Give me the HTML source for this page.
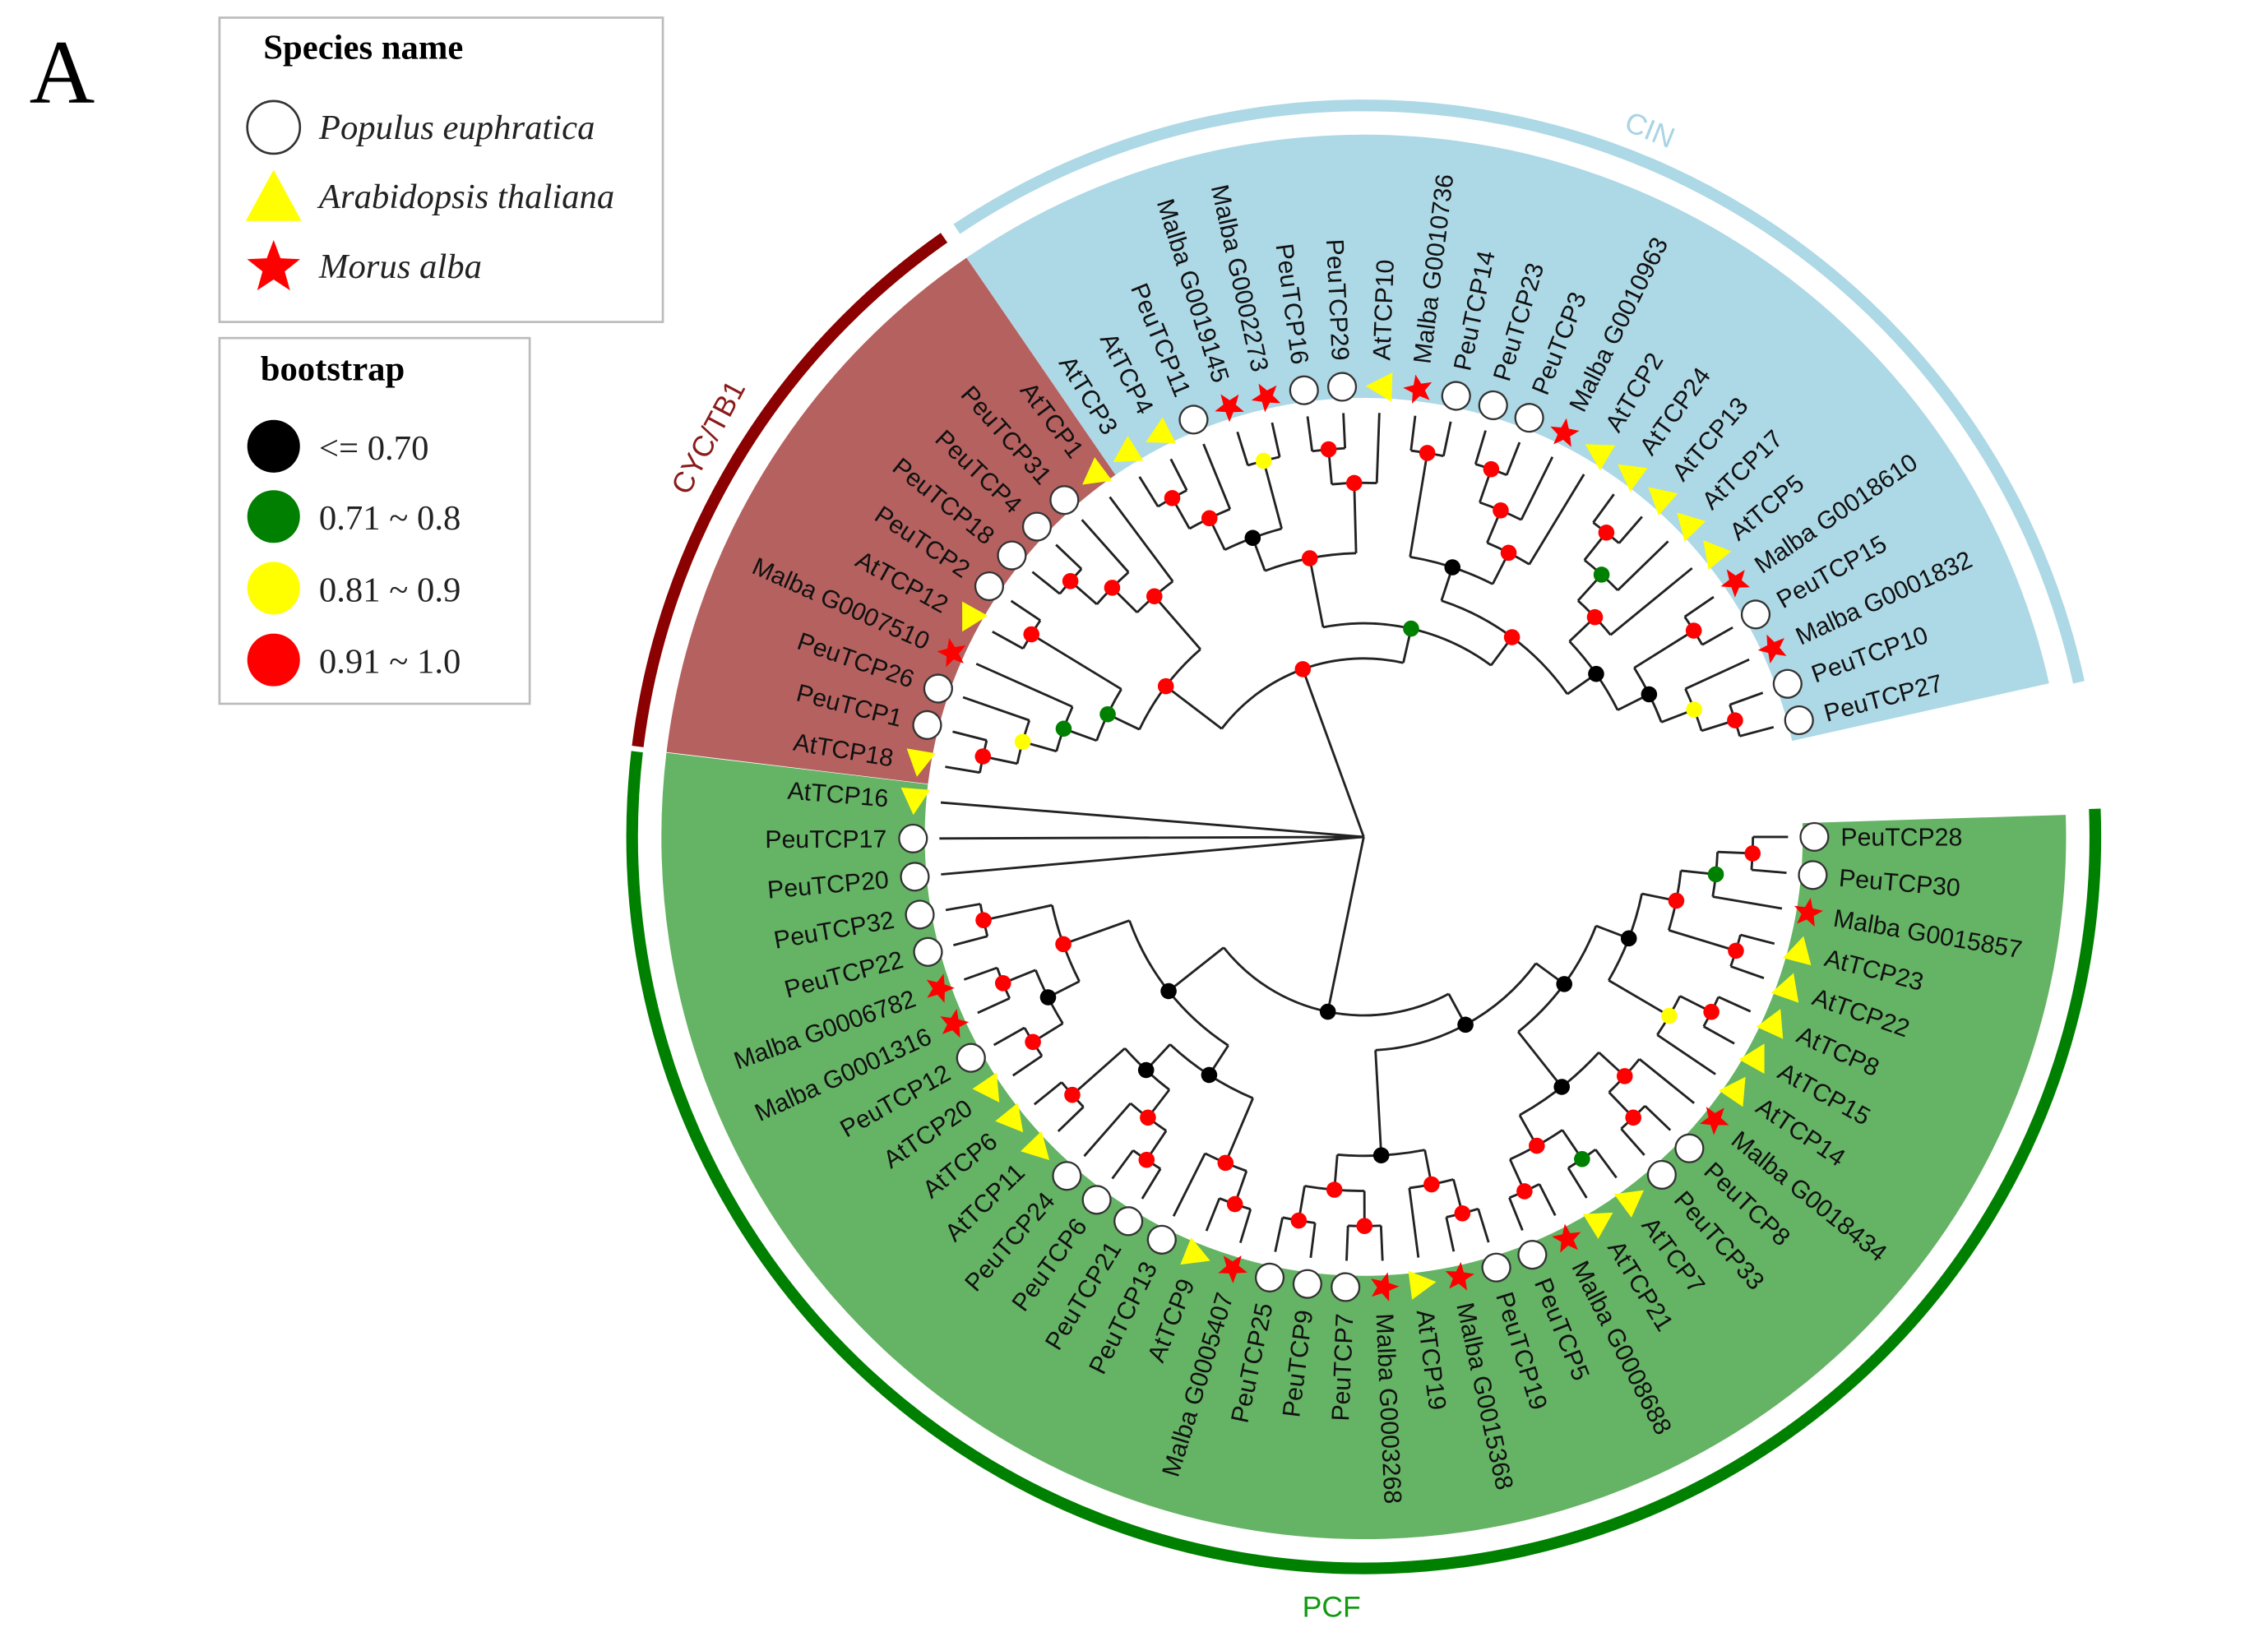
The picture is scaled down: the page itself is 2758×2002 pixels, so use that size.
<!DOCTYPE html>
<html><head><meta charset="utf-8"><style>
html,body{margin:0;padding:0;background:#fff;width:2758px;height:2002px;overflow:hidden;}
svg{display:block;}
</style></head><body>
<svg width="2758" height="2002" viewBox="0 0 1550 1125" xmlns="http://www.w3.org/2000/svg" xmlns:xlink="http://www.w3.org/1999/xlink">
<defs>
<circle id="pc" r="9.5" fill="#fff" stroke="#333" stroke-width="1.3"/>
<polygon id="tri" points="0,-10 10,8 -10,8" fill="#ffff00"/>
<polygon id="st" fill="#ff0000" points="0,-10.5 2.65,-3.64 9.99,-3.24 4.28,1.39 6.17,8.49 0,4.5 -6.17,8.49 -4.28,1.39 -9.99,-3.24 -2.65,-3.64"/>
</defs>
<rect x="0" y="0" width="1550" height="1125" fill="#fff"/>
<g transform="translate(932 572)">
<g fill="none">
<circle r="390" stroke="#add8e6" stroke-width="180" pathLength="360" stroke-dasharray="111.83 400" transform="rotate(-124.43)"/>
<circle r="390" stroke="#b5615f" stroke-width="180" pathLength="360" stroke-dasharray="48.63 400" transform="rotate(-173.06)"/>
<circle r="390" stroke="#65b365" stroke-width="180" pathLength="360" stroke-dasharray="188.74 400" transform="rotate(-1.8)"/>
<circle r="500" stroke="#add8e6" stroke-width="8" pathLength="360" stroke-dasharray="111.6 400" transform="rotate(-123.8)"/>
<circle r="500" stroke="#8b0000" stroke-width="8" pathLength="360" stroke-dasharray="47.9 400" transform="rotate(-172.9)"/>
<circle r="500" stroke="#008000" stroke-width="8" pathLength="360" stroke-dasharray="188.9 400" transform="rotate(-2.2)"/>
</g>
<g fill="none" stroke="#222" stroke-width="1.6">
<line x1="266" x2="290" transform="rotate(-15)"/><line x1="266" x2="290" transform="rotate(-19.86)"/><circle r="266" pathLength="360" stroke-dasharray="4.86 400" transform="rotate(-19.86)"/>
<line x1="242" x2="266" transform="rotate(-17.43)"/><line x1="242" x2="290" transform="rotate(-24.72)"/><circle r="242" pathLength="360" stroke-dasharray="7.29 400" transform="rotate(-24.72)"/>
<line x1="266" x2="290" transform="rotate(-29.58)"/><line x1="266" x2="290" transform="rotate(-34.44)"/><circle r="266" pathLength="360" stroke-dasharray="4.86 400" transform="rotate(-34.44)"/>
<line x1="218" x2="242" transform="rotate(-21.08)"/><line x1="218" x2="266" transform="rotate(-32.01)"/><circle r="218" pathLength="360" stroke-dasharray="10.93 400" transform="rotate(-32.01)"/>
<line x1="266" x2="290" transform="rotate(-49.01)"/><line x1="266" x2="290" transform="rotate(-53.87)"/><circle r="266" pathLength="360" stroke-dasharray="4.86 400" transform="rotate(-53.87)"/>
<line x1="242" x2="290" transform="rotate(-44.16)"/><line x1="242" x2="266" transform="rotate(-51.44)"/><circle r="242" pathLength="360" stroke-dasharray="7.28 400" transform="rotate(-51.44)"/>
<line x1="218" x2="290" transform="rotate(-39.30)"/><line x1="218" x2="242" transform="rotate(-47.80)"/><circle r="218" pathLength="360" stroke-dasharray="8.5 400" transform="rotate(-47.80)"/>
<line x1="194" x2="218" transform="rotate(-26.55)"/><line x1="194" x2="218" transform="rotate(-43.55)"/><circle r="194" pathLength="360" stroke-dasharray="17 400" transform="rotate(-43.55)"/>
<line x1="266" x2="290" transform="rotate(-68.45)"/><line x1="266" x2="290" transform="rotate(-73.31)"/><circle r="266" pathLength="360" stroke-dasharray="4.86 400" transform="rotate(-73.31)"/>
<line x1="242" x2="290" transform="rotate(-63.59)"/><line x1="242" x2="266" transform="rotate(-70.88)"/><circle r="242" pathLength="360" stroke-dasharray="7.29 400" transform="rotate(-70.88)"/>
<line x1="218" x2="290" transform="rotate(-58.73)"/><line x1="218" x2="242" transform="rotate(-67.24)"/><circle r="218" pathLength="360" stroke-dasharray="8.51 400" transform="rotate(-67.24)"/>
<line x1="266" x2="290" transform="rotate(-78.17)"/><line x1="266" x2="290" transform="rotate(-83.03)"/><circle r="266" pathLength="360" stroke-dasharray="4.86 400" transform="rotate(-83.03)"/>
<line x1="194" x2="218" transform="rotate(-62.98)"/><line x1="194" x2="266" transform="rotate(-80.60)"/><circle r="194" pathLength="360" stroke-dasharray="17.62 400" transform="rotate(-80.60)"/>
<line x1="170" x2="194" transform="rotate(-35.05)"/><line x1="170" x2="194" transform="rotate(-71.79)"/><circle r="170" pathLength="360" stroke-dasharray="36.74 400" transform="rotate(-71.79)"/>
<line x1="266" x2="290" transform="rotate(-92.75)"/><line x1="266" x2="290" transform="rotate(-97.61)"/><circle r="266" pathLength="360" stroke-dasharray="4.86 400" transform="rotate(-97.61)"/>
<line x1="242" x2="290" transform="rotate(-87.89)"/><line x1="242" x2="266" transform="rotate(-95.18)"/><circle r="242" pathLength="360" stroke-dasharray="7.29 400" transform="rotate(-95.18)"/>
<line x1="266" x2="290" transform="rotate(-102.47)"/><line x1="266" x2="290" transform="rotate(-107.32)"/><circle r="266" pathLength="360" stroke-dasharray="4.85 400" transform="rotate(-107.32)"/>
<line x1="266" x2="290" transform="rotate(-117.04)"/><line x1="266" x2="290" transform="rotate(-121.90)"/><circle r="266" pathLength="360" stroke-dasharray="4.86 400" transform="rotate(-121.90)"/>
<line x1="242" x2="290" transform="rotate(-112.18)"/><line x1="242" x2="266" transform="rotate(-119.47)"/><circle r="242" pathLength="360" stroke-dasharray="7.29 400" transform="rotate(-119.47)"/>
<line x1="218" x2="266" transform="rotate(-104.90)"/><line x1="218" x2="242" transform="rotate(-115.83)"/><circle r="218" pathLength="360" stroke-dasharray="10.93 400" transform="rotate(-115.83)"/>
<line x1="194" x2="242" transform="rotate(-91.54)"/><line x1="194" x2="218" transform="rotate(-110.37)"/><circle r="194" pathLength="360" stroke-dasharray="18.83 400" transform="rotate(-110.37)"/>
<line x1="146" x2="170" transform="rotate(-53.42)"/><line x1="146" x2="194" transform="rotate(-100.96)"/><circle r="146" pathLength="360" stroke-dasharray="47.54 400" transform="rotate(-100.96)"/>
<line x1="266" x2="290" transform="rotate(-136.48)"/><line x1="266" x2="290" transform="rotate(-141.34)"/><circle r="266" pathLength="360" stroke-dasharray="4.86 400" transform="rotate(-141.34)"/>
<line x1="242" x2="290" transform="rotate(-131.62)"/><line x1="242" x2="266" transform="rotate(-138.91)"/><circle r="242" pathLength="360" stroke-dasharray="7.29 400" transform="rotate(-138.91)"/>
<line x1="218" x2="290" transform="rotate(-126.76)"/><line x1="218" x2="242" transform="rotate(-135.27)"/><circle r="218" pathLength="360" stroke-dasharray="8.51 400" transform="rotate(-135.27)"/>
<line x1="266" x2="290" transform="rotate(-146.20)"/><line x1="266" x2="290" transform="rotate(-151.06)"/><circle r="266" pathLength="360" stroke-dasharray="4.86 400" transform="rotate(-151.06)"/>
<line x1="266" x2="290" transform="rotate(-165.63)"/><line x1="266" x2="290" transform="rotate(-170.49)"/><circle r="266" pathLength="360" stroke-dasharray="4.86 400" transform="rotate(-170.49)"/>
<line x1="242" x2="290" transform="rotate(-160.78)"/><line x1="242" x2="266" transform="rotate(-168.06)"/><circle r="242" pathLength="360" stroke-dasharray="7.28 400" transform="rotate(-168.06)"/>
<line x1="218" x2="290" transform="rotate(-155.92)"/><line x1="218" x2="242" transform="rotate(-164.42)"/><circle r="218" pathLength="360" stroke-dasharray="8.5 400" transform="rotate(-164.42)"/>
<line x1="194" x2="266" transform="rotate(-148.63)"/><line x1="194" x2="218" transform="rotate(-160.17)"/><circle r="194" pathLength="360" stroke-dasharray="11.54 400" transform="rotate(-160.17)"/>
<line x1="170" x2="218" transform="rotate(-131.02)"/><line x1="170" x2="194" transform="rotate(-154.40)"/><circle r="170" pathLength="360" stroke-dasharray="23.38 400" transform="rotate(-154.40)"/>
<line x1="122" x2="146" transform="rotate(-77.19)"/><line x1="122" x2="170" transform="rotate(-142.71)"/><circle r="122" pathLength="360" stroke-dasharray="65.52 400" transform="rotate(-142.71)"/>
<line x1="266" x2="290" transform="rotate(-189.93)"/><line x1="266" x2="290" transform="rotate(-194.79)"/><circle r="266" pathLength="360" stroke-dasharray="4.86 400" transform="rotate(-194.79)"/>
<line x1="266" x2="290" transform="rotate(-199.65)"/><line x1="266" x2="290" transform="rotate(-204.51)"/><circle r="266" pathLength="360" stroke-dasharray="4.86 400" transform="rotate(-204.51)"/>
<line x1="266" x2="290" transform="rotate(-209.37)"/><line x1="266" x2="290" transform="rotate(-214.23)"/><circle r="266" pathLength="360" stroke-dasharray="4.86 400" transform="rotate(-214.23)"/>
<line x1="242" x2="266" transform="rotate(-202.08)"/><line x1="242" x2="266" transform="rotate(-211.80)"/><circle r="242" pathLength="360" stroke-dasharray="9.72 400" transform="rotate(-211.80)"/>
<line x1="218" x2="266" transform="rotate(-192.36)"/><line x1="218" x2="242" transform="rotate(-206.94)"/><circle r="218" pathLength="360" stroke-dasharray="14.58 400" transform="rotate(-206.94)"/>
<line x1="266" x2="290" transform="rotate(-219.09)"/><line x1="266" x2="290" transform="rotate(-223.94)"/><circle r="266" pathLength="360" stroke-dasharray="4.85 400" transform="rotate(-223.94)"/>
<line x1="266" x2="290" transform="rotate(-233.66)"/><line x1="266" x2="290" transform="rotate(-238.52)"/><circle r="266" pathLength="360" stroke-dasharray="4.86 400" transform="rotate(-238.52)"/>
<line x1="242" x2="290" transform="rotate(-228.80)"/><line x1="242" x2="266" transform="rotate(-236.09)"/><circle r="242" pathLength="360" stroke-dasharray="7.29 400" transform="rotate(-236.09)"/>
<line x1="218" x2="266" transform="rotate(-221.52)"/><line x1="218" x2="242" transform="rotate(-232.45)"/><circle r="218" pathLength="360" stroke-dasharray="10.93 400" transform="rotate(-232.45)"/>
<line x1="266" x2="290" transform="rotate(-248.24)"/><line x1="266" x2="290" transform="rotate(-253.10)"/><circle r="266" pathLength="360" stroke-dasharray="4.86 400" transform="rotate(-253.10)"/>
<line x1="242" x2="290" transform="rotate(-243.38)"/><line x1="242" x2="266" transform="rotate(-250.67)"/><circle r="242" pathLength="360" stroke-dasharray="7.29 400" transform="rotate(-250.67)"/>
<line x1="194" x2="218" transform="rotate(-226.98)"/><line x1="194" x2="242" transform="rotate(-247.03)"/><circle r="194" pathLength="360" stroke-dasharray="20.05 400" transform="rotate(-247.03)"/>
<line x1="170" x2="218" transform="rotate(-199.65)"/><line x1="170" x2="194" transform="rotate(-237.01)"/><circle r="170" pathLength="360" stroke-dasharray="37.36 400" transform="rotate(-237.01)"/>
<line x1="266" x2="290" transform="rotate(-257.96)"/><line x1="266" x2="290" transform="rotate(-262.82)"/><circle r="266" pathLength="360" stroke-dasharray="4.86 400" transform="rotate(-262.82)"/>
<line x1="266" x2="290" transform="rotate(-267.68)"/><line x1="266" x2="290" transform="rotate(-272.54)"/><circle r="266" pathLength="360" stroke-dasharray="4.86 400" transform="rotate(-272.54)"/>
<line x1="242" x2="266" transform="rotate(-260.39)"/><line x1="242" x2="266" transform="rotate(-270.11)"/><circle r="242" pathLength="360" stroke-dasharray="9.72 400" transform="rotate(-270.11)"/>
<line x1="266" x2="290" transform="rotate(-282.25)"/><line x1="266" x2="290" transform="rotate(-287.11)"/><circle r="266" pathLength="360" stroke-dasharray="4.86 400" transform="rotate(-287.11)"/>
<line x1="242" x2="290" transform="rotate(-277.40)"/><line x1="242" x2="266" transform="rotate(-284.68)"/><circle r="242" pathLength="360" stroke-dasharray="7.28 400" transform="rotate(-284.68)"/>
<line x1="218" x2="242" transform="rotate(-265.25)"/><line x1="218" x2="242" transform="rotate(-281.04)"/><circle r="218" pathLength="360" stroke-dasharray="15.79 400" transform="rotate(-281.04)"/>
<line x1="266" x2="290" transform="rotate(-291.97)"/><line x1="266" x2="290" transform="rotate(-296.83)"/><circle r="266" pathLength="360" stroke-dasharray="4.86 400" transform="rotate(-296.83)"/>
<line x1="266" x2="290" transform="rotate(-301.69)"/><line x1="266" x2="290" transform="rotate(-306.55)"/><circle r="266" pathLength="360" stroke-dasharray="4.86 400" transform="rotate(-306.55)"/>
<line x1="242" x2="266" transform="rotate(-294.40)"/><line x1="242" x2="266" transform="rotate(-304.12)"/><circle r="242" pathLength="360" stroke-dasharray="9.72 400" transform="rotate(-304.12)"/>
<line x1="266" x2="290" transform="rotate(-311.41)"/><line x1="266" x2="290" transform="rotate(-316.27)"/><circle r="266" pathLength="360" stroke-dasharray="4.86 400" transform="rotate(-316.27)"/>
<line x1="242" x2="266" transform="rotate(-313.84)"/><line x1="242" x2="290" transform="rotate(-321.13)"/><circle r="242" pathLength="360" stroke-dasharray="7.29 400" transform="rotate(-321.13)"/>
<line x1="218" x2="242" transform="rotate(-299.26)"/><line x1="218" x2="242" transform="rotate(-317.49)"/><circle r="218" pathLength="360" stroke-dasharray="18.23 400" transform="rotate(-317.49)"/>
<line x1="266" x2="290" transform="rotate(-330.85)"/><line x1="266" x2="290" transform="rotate(-335.71)"/><circle r="266" pathLength="360" stroke-dasharray="4.86 400" transform="rotate(-335.71)"/>
<line x1="242" x2="290" transform="rotate(-325.99)"/><line x1="242" x2="266" transform="rotate(-333.28)"/><circle r="242" pathLength="360" stroke-dasharray="7.29 400" transform="rotate(-333.28)"/>
<line x1="266" x2="290" transform="rotate(-340.56)"/><line x1="266" x2="290" transform="rotate(-345.42)"/><circle r="266" pathLength="360" stroke-dasharray="4.86 400" transform="rotate(-345.42)"/>
<line x1="266" x2="290" transform="rotate(-355.14)"/><line x1="266" x2="290" transform="rotate(-360)"/><circle r="266" pathLength="360" stroke-dasharray="4.86 400" transform="rotate(-360)"/>
<line x1="242" x2="290" transform="rotate(-350.28)"/><line x1="242" x2="266" transform="rotate(-357.57)"/><circle r="242" pathLength="360" stroke-dasharray="7.29 400" transform="rotate(-357.57)"/>
<line x1="218" x2="266" transform="rotate(-342.99)"/><line x1="218" x2="242" transform="rotate(-353.93)"/><circle r="218" pathLength="360" stroke-dasharray="10.94 400" transform="rotate(-353.93)"/>
<line x1="194" x2="242" transform="rotate(-329.64)"/><line x1="194" x2="218" transform="rotate(-348.46)"/><circle r="194" pathLength="360" stroke-dasharray="18.82 400" transform="rotate(-348.46)"/>
<line x1="170" x2="218" transform="rotate(-308.38)"/><line x1="170" x2="194" transform="rotate(-339.05)"/><circle r="170" pathLength="360" stroke-dasharray="30.67 400" transform="rotate(-339.05)"/>
<line x1="146" x2="218" transform="rotate(-273.15)"/><line x1="146" x2="170" transform="rotate(-323.72)"/><circle r="146" pathLength="360" stroke-dasharray="50.57 400" transform="rotate(-323.72)"/>
<line x1="122" x2="170" transform="rotate(-218.33)"/><line x1="122" x2="146" transform="rotate(-298.44)"/><circle r="122" pathLength="360" stroke-dasharray="80.11 400" transform="rotate(-298.44)"/>
<line x1="0" x2="122" transform="rotate(-109.95)"/>
<line x1="0" x2="290" transform="rotate(-175.35)"/>
<line x1="0" x2="290" transform="rotate(-180.21)"/>
<line x1="0" x2="290" transform="rotate(-185.07)"/>
<line x1="0" x2="122" transform="rotate(-258.39)"/>
</g>
<g>
<circle cx="266" r="5.5" fill="#ff0000" transform="rotate(-17.43)"/>
<circle cx="242" r="5.5" fill="#ffff00" transform="rotate(-21.08)"/>
<circle cx="266" r="5.5" fill="#ff0000" transform="rotate(-32.01)"/>
<circle cx="218" r="5.5" fill="#000000" transform="rotate(-26.55)"/>
<circle cx="266" r="5.5" fill="#ff0000" transform="rotate(-51.44)"/>
<circle cx="242" r="5.5" fill="#008000" transform="rotate(-47.80)"/>
<circle cx="218" r="5.5" fill="#ff0000" transform="rotate(-43.55)"/>
<circle cx="194" r="5.5" fill="#000000" transform="rotate(-35.05)"/>
<circle cx="266" r="5.5" fill="#ff0000" transform="rotate(-70.88)"/>
<circle cx="242" r="5.5" fill="#ff0000" transform="rotate(-67.24)"/>
<circle cx="218" r="5.5" fill="#ff0000" transform="rotate(-62.98)"/>
<circle cx="266" r="5.5" fill="#ff0000" transform="rotate(-80.60)"/>
<circle cx="194" r="5.5" fill="#000000" transform="rotate(-71.79)"/>
<circle cx="170" r="5.5" fill="#ff0000" transform="rotate(-53.42)"/>
<circle cx="266" r="5.5" fill="#ff0000" transform="rotate(-95.18)"/>
<circle cx="242" r="5.5" fill="#ff0000" transform="rotate(-91.54)"/>
<circle cx="266" r="5.5" fill="#ffff00" transform="rotate(-104.90)"/>
<circle cx="266" r="5.5" fill="#ff0000" transform="rotate(-119.47)"/>
<circle cx="242" r="5.5" fill="#ff0000" transform="rotate(-115.83)"/>
<circle cx="218" r="5.5" fill="#000000" transform="rotate(-110.37)"/>
<circle cx="194" r="5.5" fill="#ff0000" transform="rotate(-100.96)"/>
<circle cx="146" r="5.5" fill="#008000" transform="rotate(-77.19)"/>
<circle cx="266" r="5.5" fill="#ff0000" transform="rotate(-138.91)"/>
<circle cx="242" r="5.5" fill="#ff0000" transform="rotate(-135.27)"/>
<circle cx="218" r="5.5" fill="#ff0000" transform="rotate(-131.02)"/>
<circle cx="266" r="5.5" fill="#ff0000" transform="rotate(-148.63)"/>
<circle cx="266" r="5.5" fill="#ff0000" transform="rotate(-168.06)"/>
<circle cx="242" r="5.5" fill="#ffff00" transform="rotate(-164.42)"/>
<circle cx="218" r="5.5" fill="#008000" transform="rotate(-160.17)"/>
<circle cx="194" r="5.5" fill="#008000" transform="rotate(-154.40)"/>
<circle cx="170" r="5.5" fill="#ff0000" transform="rotate(-142.71)"/>
<circle cx="122" r="5.5" fill="#ff0000" transform="rotate(-109.95)"/>
<circle cx="266" r="5.5" fill="#ff0000" transform="rotate(-192.36)"/>
<circle cx="266" r="5.5" fill="#ff0000" transform="rotate(-202.08)"/>
<circle cx="266" r="5.5" fill="#ff0000" transform="rotate(-211.80)"/>
<circle cx="242" r="5.5" fill="#000000" transform="rotate(-206.94)"/>
<circle cx="218" r="5.5" fill="#ff0000" transform="rotate(-199.65)"/>
<circle cx="266" r="5.5" fill="#ff0000" transform="rotate(-221.52)"/>
<circle cx="266" r="5.5" fill="#ff0000" transform="rotate(-236.09)"/>
<circle cx="242" r="5.5" fill="#ff0000" transform="rotate(-232.45)"/>
<circle cx="218" r="5.5" fill="#000000" transform="rotate(-226.98)"/>
<circle cx="266" r="5.5" fill="#ff0000" transform="rotate(-250.67)"/>
<circle cx="242" r="5.5" fill="#ff0000" transform="rotate(-247.03)"/>
<circle cx="194" r="5.5" fill="#000000" transform="rotate(-237.01)"/>
<circle cx="170" r="5.5" fill="#000000" transform="rotate(-218.33)"/>
<circle cx="266" r="5.5" fill="#ff0000" transform="rotate(-260.39)"/>
<circle cx="266" r="5.5" fill="#ff0000" transform="rotate(-270.11)"/>
<circle cx="242" r="5.5" fill="#ff0000" transform="rotate(-265.25)"/>
<circle cx="266" r="5.5" fill="#ff0000" transform="rotate(-284.68)"/>
<circle cx="242" r="5.5" fill="#ff0000" transform="rotate(-281.04)"/>
<circle cx="218" r="5.5" fill="#000000" transform="rotate(-273.15)"/>
<circle cx="266" r="5.5" fill="#ff0000" transform="rotate(-294.40)"/>
<circle cx="266" r="5.5" fill="#008000" transform="rotate(-304.12)"/>
<circle cx="242" r="5.5" fill="#ff0000" transform="rotate(-299.26)"/>
<circle cx="266" r="5.5" fill="#ff0000" transform="rotate(-313.84)"/>
<circle cx="242" r="5.5" fill="#ff0000" transform="rotate(-317.49)"/>
<circle cx="218" r="5.5" fill="#000000" transform="rotate(-308.38)"/>
<circle cx="266" r="5.5" fill="#ff0000" transform="rotate(-333.28)"/>
<circle cx="242" r="5.5" fill="#ffff00" transform="rotate(-329.64)"/>
<circle cx="266" r="5.5" fill="#ff0000" transform="rotate(-342.99)"/>
<circle cx="266" r="5.5" fill="#ff0000" transform="rotate(-357.57)"/>
<circle cx="242" r="5.5" fill="#008000" transform="rotate(-353.93)"/>
<circle cx="218" r="5.5" fill="#ff0000" transform="rotate(-348.46)"/>
<circle cx="194" r="5.5" fill="#000000" transform="rotate(-339.05)"/>
<circle cx="170" r="5.5" fill="#000000" transform="rotate(-323.72)"/>
<circle cx="146" r="5.5" fill="#000000" transform="rotate(-298.44)"/>
<circle cx="122" r="5.5" fill="#000000" transform="rotate(-258.39)"/>
</g>
<g font-family="'Liberation Sans', sans-serif" font-size="17" fill="#111">
<g transform="rotate(-15.00)"><use href="#pc" x="308"/><text x="326" dy=".35em">PeuTCP27</text></g>
<g transform="rotate(-19.86)"><use href="#pc" x="308"/><text x="326" dy=".35em">PeuTCP10</text></g>
<g transform="rotate(-24.72)"><use href="#st" x="308"/><text x="326" dy=".35em">Malba G0001832</text></g>
<g transform="rotate(-29.58)"><use href="#pc" x="308"/><text x="326" dy=".35em">PeuTCP15</text></g>
<g transform="rotate(-34.44)"><use href="#st" x="308"/><text x="326" dy=".35em">Malba G0018610</text></g>
<g transform="rotate(-39.30)"><use href="#tri" x="308"/><text x="326" dy=".35em">AtTCP5</text></g>
<g transform="rotate(-44.16)"><use href="#tri" x="308"/><text x="326" dy=".35em">AtTCP17</text></g>
<g transform="rotate(-49.01)"><use href="#tri" x="308"/><text x="326" dy=".35em">AtTCP13</text></g>
<g transform="rotate(-53.87)"><use href="#tri" x="308"/><text x="326" dy=".35em">AtTCP24</text></g>
<g transform="rotate(-58.73)"><use href="#tri" x="308"/><text x="326" dy=".35em">AtTCP2</text></g>
<g transform="rotate(-63.59)"><use href="#st" x="308"/><text x="326" dy=".35em">Malba G0010963</text></g>
<g transform="rotate(-68.45)"><use href="#pc" x="308"/><text x="326" dy=".35em">PeuTCP3</text></g>
<g transform="rotate(-73.31)"><use href="#pc" x="308"/><text x="326" dy=".35em">PeuTCP23</text></g>
<g transform="rotate(-78.17)"><use href="#pc" x="308"/><text x="326" dy=".35em">PeuTCP14</text></g>
<g transform="rotate(-83.03)"><use href="#st" x="308"/><text x="326" dy=".35em">Malba G0010736</text></g>
<g transform="rotate(-87.89)"><use href="#tri" x="308"/><text x="326" dy=".35em">AtTCP10</text></g>
<g transform="rotate(-92.75)"><use href="#pc" x="308"/><text x="326" dy=".35em" text-anchor="end" transform="rotate(180 326 0)">PeuTCP29</text></g>
<g transform="rotate(-97.61)"><use href="#pc" x="308"/><text x="326" dy=".35em" text-anchor="end" transform="rotate(180 326 0)">PeuTCP16</text></g>
<g transform="rotate(-102.47)"><use href="#st" x="308"/><text x="326" dy=".35em" text-anchor="end" transform="rotate(180 326 0)">Malba G0002273</text></g>
<g transform="rotate(-107.32)"><use href="#st" x="308"/><text x="326" dy=".35em" text-anchor="end" transform="rotate(180 326 0)">Malba G0019145</text></g>
<g transform="rotate(-112.18)"><use href="#pc" x="308"/><text x="326" dy=".35em" text-anchor="end" transform="rotate(180 326 0)">PeuTCP11</text></g>
<g transform="rotate(-117.04)"><use href="#tri" x="308"/><text x="326" dy=".35em" text-anchor="end" transform="rotate(180 326 0)">AtTCP4</text></g>
<g transform="rotate(-121.90)"><use href="#tri" x="308"/><text x="326" dy=".35em" text-anchor="end" transform="rotate(180 326 0)">AtTCP3</text></g>
<g transform="rotate(-126.76)"><use href="#tri" x="308"/><text x="326" dy=".35em" text-anchor="end" transform="rotate(180 326 0)">AtTCP1</text></g>
<g transform="rotate(-131.62)"><use href="#pc" x="308"/><text x="326" dy=".35em" text-anchor="end" transform="rotate(180 326 0)">PeuTCP31</text></g>
<g transform="rotate(-136.48)"><use href="#pc" x="308"/><text x="326" dy=".35em" text-anchor="end" transform="rotate(180 326 0)">PeuTCP4</text></g>
<g transform="rotate(-141.34)"><use href="#pc" x="308"/><text x="326" dy=".35em" text-anchor="end" transform="rotate(180 326 0)">PeuTCP18</text></g>
<g transform="rotate(-146.20)"><use href="#pc" x="308"/><text x="326" dy=".35em" text-anchor="end" transform="rotate(180 326 0)">PeuTCP2</text></g>
<g transform="rotate(-151.06)"><use href="#tri" x="308"/><text x="326" dy=".35em" text-anchor="end" transform="rotate(180 326 0)">AtTCP12</text></g>
<g transform="rotate(-155.92)"><use href="#st" x="308"/><text x="326" dy=".35em" text-anchor="end" transform="rotate(180 326 0)">Malba G0007510</text></g>
<g transform="rotate(-160.78)"><use href="#pc" x="308"/><text x="326" dy=".35em" text-anchor="end" transform="rotate(180 326 0)">PeuTCP26</text></g>
<g transform="rotate(-165.63)"><use href="#pc" x="308"/><text x="326" dy=".35em" text-anchor="end" transform="rotate(180 326 0)">PeuTCP1</text></g>
<g transform="rotate(-170.49)"><use href="#tri" x="308"/><text x="326" dy=".35em" text-anchor="end" transform="rotate(180 326 0)">AtTCP18</text></g>
<g transform="rotate(-175.35)"><use href="#tri" x="308"/><text x="326" dy=".35em" text-anchor="end" transform="rotate(180 326 0)">AtTCP16</text></g>
<g transform="rotate(-180.21)"><use href="#pc" x="308"/><text x="326" dy=".35em" text-anchor="end" transform="rotate(180 326 0)">PeuTCP17</text></g>
<g transform="rotate(-185.07)"><use href="#pc" x="308"/><text x="326" dy=".35em" text-anchor="end" transform="rotate(180 326 0)">PeuTCP20</text></g>
<g transform="rotate(-189.93)"><use href="#pc" x="308"/><text x="326" dy=".35em" text-anchor="end" transform="rotate(180 326 0)">PeuTCP32</text></g>
<g transform="rotate(-194.79)"><use href="#pc" x="308"/><text x="326" dy=".35em" text-anchor="end" transform="rotate(180 326 0)">PeuTCP22</text></g>
<g transform="rotate(-199.65)"><use href="#st" x="308"/><text x="326" dy=".35em" text-anchor="end" transform="rotate(180 326 0)">Malba G0006782</text></g>
<g transform="rotate(-204.51)"><use href="#st" x="308"/><text x="326" dy=".35em" text-anchor="end" transform="rotate(180 326 0)">Malba G0001316</text></g>
<g transform="rotate(-209.37)"><use href="#pc" x="308"/><text x="326" dy=".35em" text-anchor="end" transform="rotate(180 326 0)">PeuTCP12</text></g>
<g transform="rotate(-214.23)"><use href="#tri" x="308"/><text x="326" dy=".35em" text-anchor="end" transform="rotate(180 326 0)">AtTCP20</text></g>
<g transform="rotate(-219.09)"><use href="#tri" x="308"/><text x="326" dy=".35em" text-anchor="end" transform="rotate(180 326 0)">AtTCP6</text></g>
<g transform="rotate(-223.94)"><use href="#tri" x="308"/><text x="326" dy=".35em" text-anchor="end" transform="rotate(180 326 0)">AtTCP11</text></g>
<g transform="rotate(-228.80)"><use href="#pc" x="308"/><text x="326" dy=".35em" text-anchor="end" transform="rotate(180 326 0)">PeuTCP24</text></g>
<g transform="rotate(-233.66)"><use href="#pc" x="308"/><text x="326" dy=".35em" text-anchor="end" transform="rotate(180 326 0)">PeuTCP6</text></g>
<g transform="rotate(-238.52)"><use href="#pc" x="308"/><text x="326" dy=".35em" text-anchor="end" transform="rotate(180 326 0)">PeuTCP21</text></g>
<g transform="rotate(-243.38)"><use href="#pc" x="308"/><text x="326" dy=".35em" text-anchor="end" transform="rotate(180 326 0)">PeuTCP13</text></g>
<g transform="rotate(-248.24)"><use href="#tri" x="308"/><text x="326" dy=".35em" text-anchor="end" transform="rotate(180 326 0)">AtTCP9</text></g>
<g transform="rotate(-253.10)"><use href="#st" x="308"/><text x="326" dy=".35em" text-anchor="end" transform="rotate(180 326 0)">Malba G0005407</text></g>
<g transform="rotate(-257.96)"><use href="#pc" x="308"/><text x="326" dy=".35em" text-anchor="end" transform="rotate(180 326 0)">PeuTCP25</text></g>
<g transform="rotate(-262.82)"><use href="#pc" x="308"/><text x="326" dy=".35em" text-anchor="end" transform="rotate(180 326 0)">PeuTCP9</text></g>
<g transform="rotate(-267.68)"><use href="#pc" x="308"/><text x="326" dy=".35em" text-anchor="end" transform="rotate(180 326 0)">PeuTCP7</text></g>
<g transform="rotate(-272.54)"><use href="#st" x="308"/><text x="326" dy=".35em">Malba G0003268</text></g>
<g transform="rotate(-277.40)"><use href="#tri" x="308"/><text x="326" dy=".35em">AtTCP19</text></g>
<g transform="rotate(-282.25)"><use href="#st" x="308"/><text x="326" dy=".35em">Malba G0015368</text></g>
<g transform="rotate(-287.11)"><use href="#pc" x="308"/><text x="326" dy=".35em">PeuTCP19</text></g>
<g transform="rotate(-291.97)"><use href="#pc" x="308"/><text x="326" dy=".35em">PeuTCP5</text></g>
<g transform="rotate(-296.83)"><use href="#st" x="308"/><text x="326" dy=".35em">Malba G0008688</text></g>
<g transform="rotate(-301.69)"><use href="#tri" x="308"/><text x="326" dy=".35em">AtTCP21</text></g>
<g transform="rotate(-306.55)"><use href="#tri" x="308"/><text x="326" dy=".35em">AtTCP7</text></g>
<g transform="rotate(-311.41)"><use href="#pc" x="308"/><text x="326" dy=".35em">PeuTCP33</text></g>
<g transform="rotate(-316.27)"><use href="#pc" x="308"/><text x="326" dy=".35em">PeuTCP8</text></g>
<g transform="rotate(-321.13)"><use href="#st" x="308"/><text x="326" dy=".35em">Malba G0018434</text></g>
<g transform="rotate(-325.99)"><use href="#tri" x="308"/><text x="326" dy=".35em">AtTCP14</text></g>
<g transform="rotate(-330.85)"><use href="#tri" x="308"/><text x="326" dy=".35em">AtTCP15</text></g>
<g transform="rotate(-335.71)"><use href="#tri" x="308"/><text x="326" dy=".35em">AtTCP8</text></g>
<g transform="rotate(-340.56)"><use href="#tri" x="308"/><text x="326" dy=".35em">AtTCP22</text></g>
<g transform="rotate(-345.42)"><use href="#tri" x="308"/><text x="326" dy=".35em">AtTCP23</text></g>
<g transform="rotate(-350.28)"><use href="#st" x="308"/><text x="326" dy=".35em">Malba G0015857</text></g>
<g transform="rotate(-355.14)"><use href="#pc" x="308"/><text x="326" dy=".35em">PeuTCP30</text></g>
<g transform="rotate(-360)"><use href="#pc" x="308"/><text x="326" dy=".35em">PeuTCP28</text></g>
</g>
</g>
<text x="20" y="70" font-family="'Liberation Serif', serif" font-size="62" fill="#000">A</text>
<g>
<rect x="150" y="12" width="303" height="208" fill="#fff" stroke="#bbb" stroke-width="1.5"/>
<text x="180" y="40" font-family="'Liberation Serif', serif" font-size="24" font-weight="bold">Species name</text>
<circle cx="187" cy="87" r="18" fill="#fff" stroke="#333" stroke-width="1.5"/>
<text x="218" y="95" font-family="'Liberation Serif', serif" font-size="24" font-style="italic" fill="#222">Populus euphratica</text>
<polygon points="187,116 206,151 168,151" fill="#ffff00"/>
<text x="218" y="142" font-family="'Liberation Serif', serif" font-size="24" font-style="italic" fill="#222">Arabidopsis thaliana</text>
<polygon fill="#ff0000" points="187,164 191.7,176.5 205.1,177.1 194.6,185.5 198.2,198.4 187,191 175.8,198.4 179.4,185.5 168.9,177.1 182.3,176.5"/>
<text x="218" y="190" font-family="'Liberation Serif', serif" font-size="24" font-style="italic" fill="#222">Morus alba</text>
</g>
<g>
<rect x="150" y="231" width="212" height="250" fill="#fff" stroke="#bbb" stroke-width="1.5"/>
<text x="178" y="260" font-family="'Liberation Serif', serif" font-size="24" font-weight="bold">bootstrap</text>
<circle cx="187" cy="305" r="18" fill="#000"/>
<text x="218" y="314" font-family="'Liberation Serif', serif" font-size="24" fill="#222">&lt;= 0.70</text>
<circle cx="187" cy="353" r="18" fill="#007f00"/>
<text x="218" y="362" font-family="'Liberation Serif', serif" font-size="24" fill="#222">0.71 ~ 0.8</text>
<circle cx="187" cy="402" r="18" fill="#ffff00"/>
<text x="218" y="411" font-family="'Liberation Serif', serif" font-size="24" fill="#222">0.81 ~ 0.9</text>
<circle cx="187" cy="451" r="18" fill="#ff0000"/>
<text x="218" y="460" font-family="'Liberation Serif', serif" font-size="24" fill="#222">0.91 ~ 1.0</text>
</g>
<text x="1125" y="95" font-family="'Liberation Sans', sans-serif" font-size="20" fill="#a8d4e4" transform="rotate(22 1125 95)" text-anchor="middle">CIN</text>
<text x="490" y="302" font-family="'Liberation Sans', sans-serif" font-size="20" fill="#8b1a1a" transform="rotate(-62 490 302)" text-anchor="middle">CYC/TB1</text>
<text x="910" y="1105" font-family="'Liberation Sans', sans-serif" font-size="20" fill="#139a13" text-anchor="middle">PCF</text>
</svg>
</body></html>
